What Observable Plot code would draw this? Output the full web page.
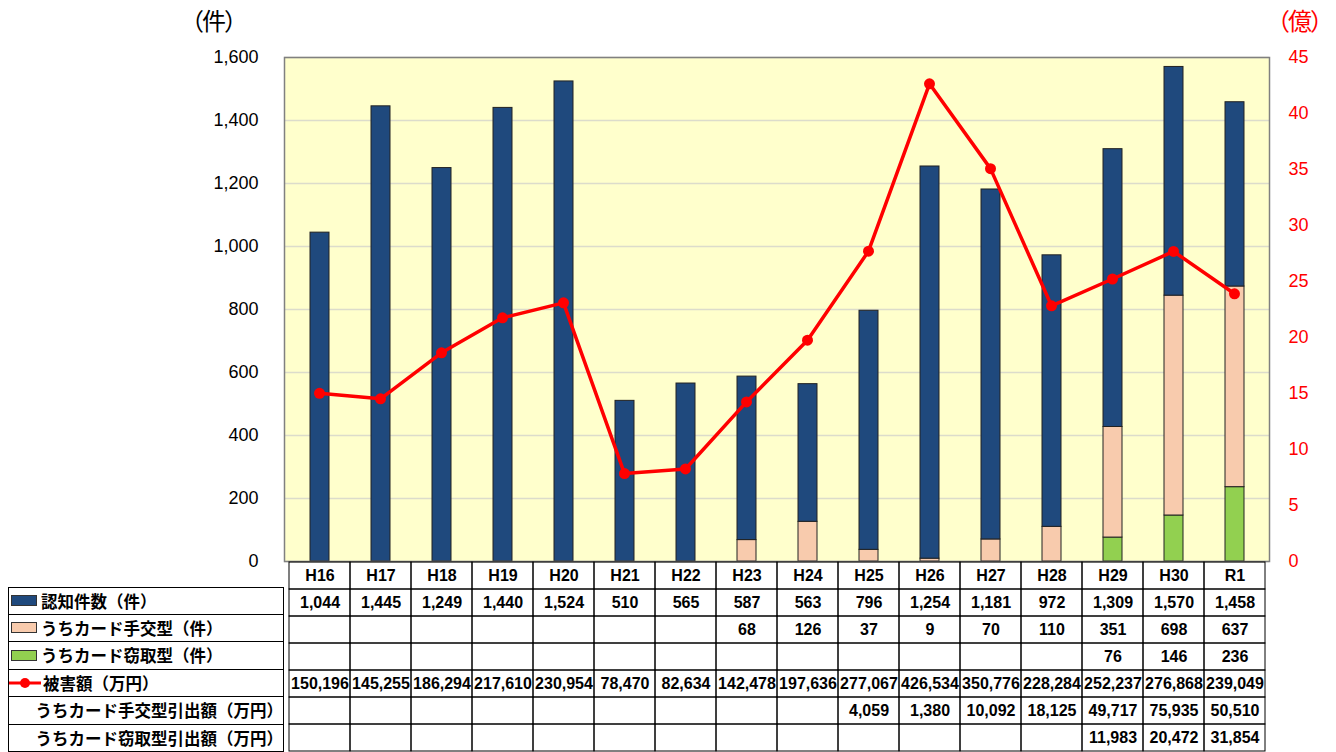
<!DOCTYPE html>
<html><head><meta charset="utf-8">
<script src="https://cdn.jsdelivr.net/npm/d3@7"></script>
<script src="https://cdn.jsdelivr.net/npm/@observablehq/plot@0.6"></script>
<style>
body{margin:0;background:#fff;}
#wrap{position:relative;width:1336px;height:752px;overflow:hidden;font-family:"Liberation Sans",Arial,sans-serif;}
#wrap svg{position:absolute;left:0;}
.ttl{position:absolute;font-family:"Noto Sans CJK JP";font-size:24px;line-height:1;letter-spacing:-2px;white-space:nowrap;}
#labels{position:absolute;left:8px;top:587px;width:276px;}
.lrow{height:27.5px;box-sizing:border-box;border:1px solid #000;border-top:none;display:flex;align-items:center;font-family:"Noto Sans CJK JP";font-weight:bold;font-size:16.5px;white-space:nowrap;}
.lrow:first-child{border-top:1px solid #000;}
.sw{display:inline-block;width:26px;height:11px;border:1px solid #333;margin:0 4px 0 2px;box-sizing:border-box;}
</style></head>
<body><div id="wrap"></div>
<script>
const years = ["H16","H17","H18","H19","H20","H21","H22","H23","H24","H25","H26","H27","H28","H29","H30","R1"];
const recognized = [1044,1445,1249,1440,1524,510,565,587,563,796,1254,1181,972,1309,1570,1458];
const handover = [null,null,null,null,null,null,null,68,126,37,9,70,110,351,698,637];
const theft = [null,null,null,null,null,null,null,null,null,null,null,null,null,76,146,236];
const damage = [150196,145255,186294,217610,230954,78470,82634,142478,197636,277067,426534,350776,228284,252237,276868,239049];
const handoverWithdraw = [null,null,null,null,null,null,null,null,null,4059,1380,10092,18125,49717,75935,50510];
const theftWithdraw = [null,null,null,null,null,null,null,null,null,null,null,null,null,11983,20472,31854];
const rowLabels = ["認知件数（件）","うちカード手交型（件）","うちカード窃取型（件）","被害額（万円）","うちカード手交型引出額（万円）","うちカード窃取型引出額（万円）"];
const leftTicks = [0,200,400,600,800,1000,1200,1400,1600];
const rightTicks = [0,5,10,15,20,25,30,35,40,45];

const NAVY="#1F497D", PINK="#F8CBAD", GREEN="#92D050", RED="#FF0000";
const fmt = d3.format(",");
const wrap = document.getElementById("wrap");

const bars = years.map((yr,i)=>{
  const g = theft[i]||0, p = handover[i]||0;
  return {year:yr, g0:0, g1:g, p0:g, p1:g+p, n0:g+p, n1:recognized[i]};
});
const line = years.map((yr,i)=>({year:yr, oku:damage[i]/10000}));

const common = {width:1336, height:575, marginLeft:284, marginRight:67, marginTop:57, marginBottom:14};

const chart = Plot.plot({...common,
  style:{fontFamily:"Liberation Sans, Arial, sans-serif", fontSize:"18px", background:"transparent"},
  x:{domain:years, padding:0, axis:null},
  y:{domain:[0,1600], axis:null},
  marks:[
    Plot.frame({fill:"#FFFFCC"}),
    Plot.gridY(leftTicks,{stroke:"#dcdccb", strokeOpacity:1, strokeWidth:1.5}),
    Plot.axisY({ticks:leftTicks, tickFormat:fmt, tickSize:0, tickPadding:26, fontSize:18, label:null}),
    Plot.barY(bars.filter(d=>d.g1>0),{x:"year", y1:"g0", y2:"g1", fill:GREEN, stroke:"#222", strokeWidth:1, insetLeft:21, insetRight:21}),
    Plot.barY(bars.filter(d=>d.p1>d.p0),{x:"year", y1:"p0", y2:"p1", fill:PINK, stroke:"#222", strokeWidth:1, insetLeft:21, insetRight:21}),
    Plot.barY(bars,{x:"year", y1:"n0", y2:"n1", fill:NAVY, stroke:"#222", strokeWidth:1, insetLeft:21, insetRight:21}),
    Plot.frame({stroke:"#808080", strokeWidth:1.5})
  ]});
chart.style.top="0px";
wrap.appendChild(chart);

const lineChart = Plot.plot({...common,
  style:{fontFamily:"Liberation Sans, Arial, sans-serif", fontSize:"18px", background:"transparent", color:RED},
  x:{type:"point", domain:years, padding:0.5, axis:null},
  y:{domain:[0,45], axis:null},
  marks:[
    Plot.axisY({anchor:"right", ticks:rightTicks, tickSize:0, tickPadding:19, fill:RED, fontSize:18, label:null}),
    Plot.line(line,{x:"year", y:"oku", stroke:RED, strokeWidth:3.5}),
    Plot.dot(line,{x:"year", y:"oku", fill:RED, r:5.5})
  ]});
lineChart.style.top="0px";
wrap.appendChild(lineChart);

// table grid
const rowKeys = ["hdr","r1","r2","r3","r4","r5","r6"];
const series = [recognized, handover, theft, damage, handoverWithdraw, theftWithdraw];
const cells = years.flatMap(yr=>rowKeys.map(r=>({year:yr,row:r})));
const texts = years.flatMap((yr,i)=>[{year:yr,row:"hdr",t:yr}].concat(
  series.map((s,k)=>({year:yr,row:rowKeys[k+1],t:s[i]==null?"":fmt(s[i])})).filter(d=>d.t!=="")));
const table = Plot.plot({width:1336, height:194, marginLeft:284, marginRight:67, marginTop:0, marginBottom:0,
  style:{fontFamily:"Liberation Sans, Arial, sans-serif", background:"transparent"},
  x:{domain:years, padding:0, axis:null},
  y:{domain:rowKeys, padding:0, axis:null, range:[0.5,192.5]},
  marks:[
    Plot.cell(cells,{x:"year", y:"row", fill:"none", stroke:"#000", strokeWidth:1}),
    Plot.text(texts,{x:"year", y:"row", text:"t", fontWeight:"bold", fontSize:16, fill:"#000"})
  ]});
table.style.top="560px";
wrap.appendChild(table);

// label column
const labels = document.createElement("div");
labels.id="labels";
const swatches = [NAVY, PINK, GREEN, "line", null, null];
rowLabels.forEach((lab,k)=>{
  const r=document.createElement("div"); r.className="lrow";
  const s=swatches[k];
  if(s==="line"){
    r.innerHTML='<svg width="32" height="14" style="position:static;margin:0 2px 0 0"><line x1="0" y1="7" x2="32" y2="7" stroke="'+RED+'" stroke-width="3"/><circle cx="16" cy="7" r="5" fill="'+RED+'"/></svg>';
  } else if(s){
    r.innerHTML='<span class="sw" style="background:'+s+'"></span>';
  } else {
    r.innerHTML='<span style="display:inline-block;width:34px"></span>';
  }
  const t=document.createElement("span"); t.textContent=lab; r.appendChild(t);
  labels.appendChild(r);
});
wrap.appendChild(labels);

const t1=document.createElement("div"); t1.className="ttl"; t1.textContent="（件）";
t1.style.left="180px"; t1.style.top="8px"; wrap.appendChild(t1);
const t2=document.createElement("div"); t2.className="ttl"; t2.textContent="（億）";
t2.style.left="1266px"; t2.style.top="8px"; t2.style.color=RED; wrap.appendChild(t2);
</script></body></html>
